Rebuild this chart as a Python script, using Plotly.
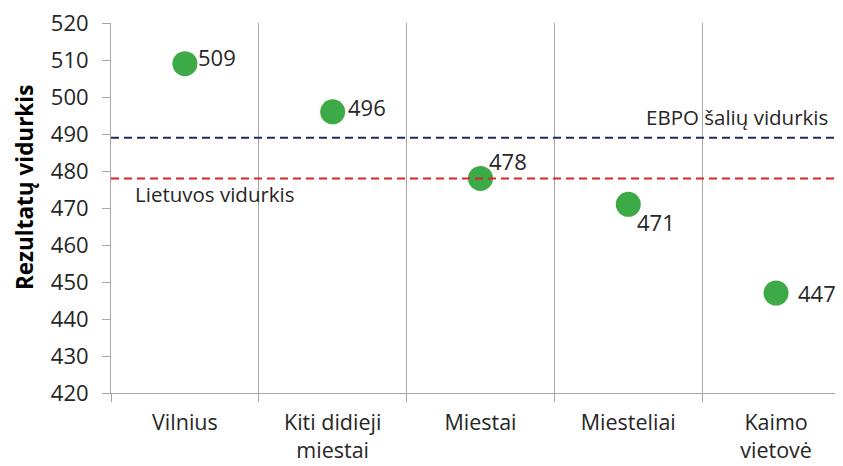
import plotly.graph_objects as go

categories = ["Vilnius", "Kiti didieji<br>miestai", "Miestai", "Miesteliai", "Kaimo<br>vietovė"]
values = [509, 496, 478, 471, 447]
label_dx = [11, 13, 7, 7, 20]
label_dy = [7, 5, 17, -18, 0]
oecd_avg = 489
lt_avg = 478
y_ticks = list(range(420, 521, 10))

FONT = "Open Sans"
TXT = "#262626"
fig = go.Figure()
fig.add_trace(go.Scatter(
    x=categories, y=values, mode="markers",
    marker=dict(size=25, color="#3DAA48"),
    cliponaxis=False, showlegend=False, hoverinfo="x+y",
))
for c, v, dx, dy in zip(categories, values, label_dx, label_dy):
    fig.add_annotation(x=c, y=v, text=str(v), showarrow=False, xanchor="left", yanchor="middle",
                       xshift=dx, yshift=dy, font=dict(family=FONT, size=22, color=TXT))

fig.add_shape(type="line", xref="paper", yref="y", x0=0, x1=1, y0=oecd_avg, y1=oecd_avg,
              line=dict(color="#1F2D5C", width=2, dash="8px,5px"))
fig.add_shape(type="line", xref="paper", yref="y", x0=0, x1=1, y0=lt_avg, y1=lt_avg,
              line=dict(color="#D9262B", width=2, dash="8px,5px"))
fig.add_annotation(text="EBPO šalių vidurkis", xref="paper", yref="y", x=0.972, y=oecd_avg,
                   xanchor="right", yanchor="middle", showarrow=False, yshift=21,
                   font=dict(family=FONT, size=20.5, color=TXT))
fig.add_annotation(text="Lietuvos vidurkis", xref="paper", yref="y", x=0.030, y=lt_avg,
                   xanchor="left", yanchor="middle", showarrow=False, yshift=-16,
                   font=dict(family=FONT, size=20.5, color=TXT))
fig.add_annotation(text="<b>Rezultatų vidurkis</b>", xref="paper", yref="paper", x=-0.117, y=0.555,
                   xanchor="center", yanchor="middle", textangle=-90, showarrow=False,
                   font=dict(family=FONT, size=22.5, color="#000000"))

fig.update_layout(
    width=843, height=466,
    margin=dict(l=103, r=0, t=15, b=81),
    paper_bgcolor="white", plot_bgcolor="white",
    font=dict(family=FONT, color=TXT),
    xaxis=dict(type="category", range=[-0.5, 4.507], tickson="boundaries", automargin=False,
               showgrid=True, gridcolor="#A6A6A6", gridwidth=1,
               showline=True, linecolor="#A6A6A6", linewidth=1,
               ticks="outside", ticklen=8, tickcolor="#A6A6A6", ticklabelstandoff=10,
               ticklabeloverflow="allow",
               tickfont=dict(family=FONT, size=21.5, color=TXT)),
    yaxis=dict(range=[420, 520], tickvals=y_ticks, showgrid=False, zeroline=False, automargin=False,
               showline=True, linecolor="#A6A6A6", linewidth=1,
               ticks="outside", ticklen=8, tickcolor="#A6A6A6", ticklabelstandoff=9,
               ticklabeloverflow="allow",
               tickfont=dict(family=FONT, size=22, color=TXT)),
)
fig.write_html("out.html")
